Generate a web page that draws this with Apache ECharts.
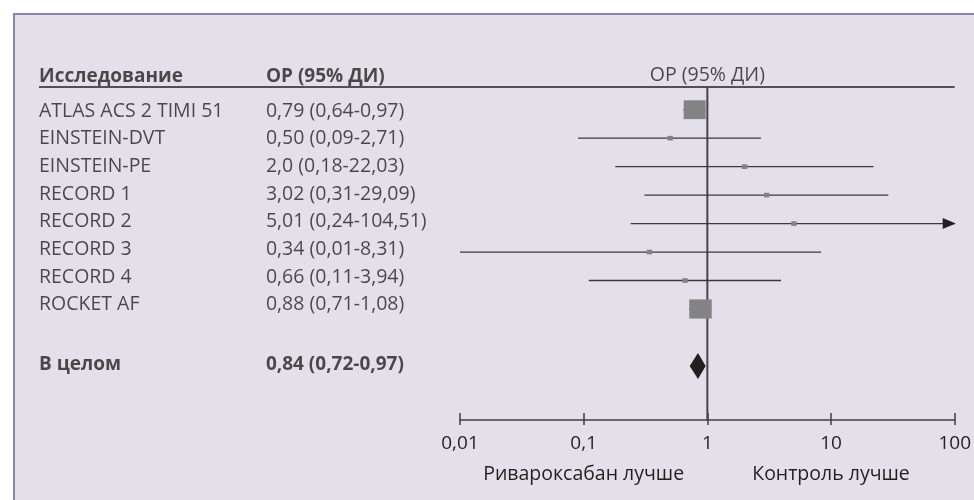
<!DOCTYPE html>
<html>
<head>
<meta charset="utf-8">
<script src="https://cdn.jsdelivr.net/npm/echarts/dist/echarts.min.js"></script>
<style>
  html, body { margin: 0; padding: 0; background: #fff; }
  #chart { width: 974px; height: 500px; }
</style>
</head>
<body>
<div id="chart"></div>
<script>
// ---- data ----
var studies = ['ATLAS ACS 2 TIMI 51', 'EINSTEIN-DVT', 'EINSTEIN-PE', 'RECORD 1',
               'RECORD 2', 'RECORD 3', 'RECORD 4', 'ROCKET AF'];
var estimates = [0.79, 0.50, 2.0, 3.02, 5.01, 0.34, 0.66, 0.88];
var lowerCI = [0.64, 0.09, 0.18, 0.31, 0.24, 0.01, 0.11, 0.71];
var upperCI = [0.97, 2.71, 22.03, 29.09, 104.51, 8.31, 3.94, 1.08];
var weights = [46, 1, 1, 1, 1, 1, 1, 48];
var ciLabels = ['0,79 (0,64-0,97)', '0,50 (0,09-2,71)', '2,0 (0,18-22,03)', '3,02 (0,31-29,09)',
                '5,01 (0,24-104,51)', '0,34 (0,01-8,31)', '0,66 (0,11-3,94)', '0,88 (0,71-1,08)'];
var overallName = 'В целом';
var overall = [0.84, 0.72, 0.97];
var overallLabel = '0,84 (0,72-0,97)';
var headers = ['Исследование', 'ОР (95% ДИ)', 'ОР (95% ДИ)'];
var tickLabels = ['0,01', '0,1', '1', '10', '100'];
var sideLabels = { 1: 'Ривароксабан лучше', 3: 'Контроль лучше' };

// ---- layout ----
var xMin = 0.01, xMax = 100;
var yMin = -1.5, yMax = 10.9;
var headerRow = -1.2, ruleRow = -0.8;          // plot grid
var tableHeaderRow = -1.25, tableRuleRow = -0.866, tableOverallRow = 9.15;  // table grid
var overallRow = studies.length + 1;
var col2 = 0.539;
var ink = '#231f20';
var font = 'Open Sans';

var chart = echarts.init(document.getElementById('chart'));

function renderStudy(params, api) {
    var row = api.value(0), est = api.value(1), lo = api.value(2), hi = api.value(3), w = api.value(4);
    var clipped = hi > xMax;
    var a = api.coord([lo, row]);
    var b = api.coord([clipped ? xMax : hi, row]);
    var c = api.coord([est, row]);
    var h = 2.2 + Math.sqrt(w) * 2.45, wd = h * 1.17;
    var children = [
        { type: 'line', shape: { x1: a[0], y1: a[1], x2: b[0], y2: b[1] },
          style: { stroke: '#3a3a3a', lineWidth: 1.3 } },
        { type: 'rect', shape: { x: c[0] - wd / 2, y: c[1] - h / 2, width: wd, height: h },
          style: { fill: '#838386' } }
    ];
    if (clipped) {
        children.push({ type: 'polygon',
            shape: { points: [[b[0] - 12, b[1] - 5.5], [b[0] + 1, b[1]], [b[0] - 12, b[1] + 5.5]] },
            style: { fill: ink } });
    }
    return { type: 'group', children: children };
}

function renderDiamond(params, api) {
    var row = api.value(0);
    var l = api.coord([api.value(2), row]);
    var r = api.coord([api.value(3), row]);
    var c = api.coord([api.value(1), row]);
    return { type: 'polygon',
        shape: { points: [[l[0], l[1]], [c[0], c[1] - 13], [r[0], r[1]], [c[0], c[1] + 13]] },
        style: { fill: ink } };
}

// table grid uses xAxis 2 / yAxis 1, plot grid uses xAxis 0 / yAxis 0
function textSeries(inTable, x, rows, texts, bold, center) {
    return {
        type: 'scatter', xAxisIndex: inTable ? 2 : 0, yAxisIndex: inTable ? 1 : 0,
        symbolSize: 0, silent: true, z: 5,
        data: rows.map(function (r) { return [x, r]; }),
        label: {
            show: true, position: center ? 'inside' : 'right', distance: 0,
            align: center ? 'center' : 'left', verticalAlign: 'middle',
            color: ink, fontFamily: font, fontSize: bold ? 19 : 19.5,
            fontWeight: bold ? 'bold' : 'normal',
            formatter: function (p) { return texts[p.dataIndex]; }
        }
    };
}

var studyRows = studies.map(function (s, i) { return i; });

var option = {
    animation: false,
    backgroundColor: '#fff',
    graphic: [{
        type: 'rect', left: 13, top: 13, z: -10, silent: true,
        shape: { width: 975, height: 500 },
        style: { fill: '#e4e0ea', stroke: '#8b81b3', lineWidth: 2 }
    }],
    grid: [
        { left: 460, right: 18, top: 67, bottom: 80 },
        { left: 39, right: 514, top: 69.4, bottom: 87 }
    ],
    xAxis: [
        { type: 'log', logBase: 10, min: xMin, max: xMax, gridIndex: 0, position: 'bottom',
          splitLine: { show: false },
          axisLine: { onZero: false, lineStyle: { color: '#3f3f3f', width: 1.5 } },
          axisTick: { inside: true, length: 7, lineStyle: { color: '#3f3f3f', width: 1.5 } },
          axisLabel: {
              interval: 0, margin: 9, color: ink, fontFamily: font, fontSize: 19,
              formatter: function (v, i) {
                  var t = '{t|' + tickLabels[i] + '}';
                  return sideLabels[i] ? t + '\n{s|' + sideLabels[i] + '}' : t;
              },
              rich: {
                  t: { fontFamily: font, fontSize: 19, lineHeight: 30, color: ink },
                  s: { fontFamily: font, fontSize: 19.5, lineHeight: 30, color: ink }
              }
          } },
        { type: 'log', logBase: 10, min: xMin, max: xMax, gridIndex: 0, position: 'bottom',
          splitLine: { show: false }, axisLabel: { show: false },
          axisLine: { show: false, onZero: false },
          axisTick: { length: 5, lineStyle: { color: '#3f3f3f', width: 1.5 } } },
        { type: 'value', min: 0, max: 1, gridIndex: 1, show: false }
    ],
    yAxis: [
        { type: 'value', min: yMin, max: yMax, inverse: true, gridIndex: 0, show: false },
        { type: 'value', min: yMin, max: yMax, inverse: true, gridIndex: 1, show: false }
    ],
    series: [
        // header rule across both grids
        { type: 'line', xAxisIndex: 2, yAxisIndex: 1, symbol: 'none', silent: true, z: 1,
          data: [[0, tableRuleRow], [1, tableRuleRow]], lineStyle: { color: ink, width: 1.4 } },
        { type: 'line', xAxisIndex: 0, yAxisIndex: 0, symbol: 'none', silent: true, z: 1,
          data: [[xMin, ruleRow], [xMax, ruleRow]], lineStyle: { color: ink, width: 1.4 } },
        // line of no effect
        { type: 'line', xAxisIndex: 0, yAxisIndex: 0, symbol: 'none', silent: true, z: 1,
          data: [[1, ruleRow], [1, yMax]], lineStyle: { color: '#454545', width: 2 } },
        // studies
        { type: 'custom', xAxisIndex: 0, yAxisIndex: 0, z: 3, silent: true,
          renderItem: renderStudy, encode: { x: [1, 2, 3], y: 0 },
          data: studies.map(function (s, i) {
              return [i, estimates[i], lowerCI[i], upperCI[i], weights[i]];
          }) },
        { type: 'custom', xAxisIndex: 0, yAxisIndex: 0, z: 3, silent: true,
          renderItem: renderDiamond, encode: { x: [1, 2, 3], y: 0 },
          data: [[overallRow, overall[0], overall[1], overall[2]]] },
        // table text
        textSeries(true, 0, [tableHeaderRow], [headers[0]], true, false),
        textSeries(true, col2, [tableHeaderRow], [headers[1]], true, false),
        textSeries(false, 1, [headerRow], [headers[2]], false, true),
        textSeries(true, 0, studyRows, studies, false, false),
        textSeries(true, col2, studyRows, ciLabels, false, false),
        textSeries(true, 0, [tableOverallRow], [overallName], true, false),
        textSeries(true, col2, [tableOverallRow], [overallLabel], true, false)
    ]
};

chart.setOption(option);
</script>
</body>
</html>
